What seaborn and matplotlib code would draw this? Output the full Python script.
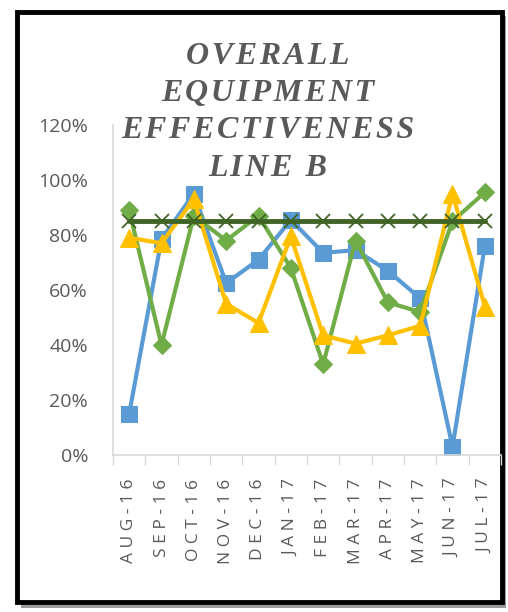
import numpy as np
import pandas as pd
import matplotlib
matplotlib.use("Agg")
import matplotlib.pyplot as plt
import seaborn as sns
from matplotlib.patches import Rectangle
from matplotlib.ticker import PercentFormatter


# Data
months = ["AUG-16", "SEP-16", "OCT-16", "NOV-16", "DEC-16", "JAN-17",
          "FEB-17", "MAR-17", "APR-17", "MAY-17", "JUN-17", "JUL-17"]

oee_blue = [0.15, 0.785, 0.95, 0.625, 0.71, 0.855, 0.735, 0.745, 0.67, 0.57, 0.03, 0.76]
oee_green = [0.89, 0.40, 0.87, 0.78, 0.87, 0.68, 0.33, 0.78, 0.555, 0.52, 0.85, 0.955]
oee_yellow = [0.79, 0.77, 0.93, 0.55, 0.48, 0.795, 0.435, 0.405, 0.435, 0.47, 0.95, 0.54]
target = [0.85] * 12


sns.set_theme(style="white")
plt.rcParams["font.family"] = ["Open Sans", "DejaVu Sans"]

fig = plt.figure(figsize=(5.08, 6.12), dpi=100)

# frame with shadow
fig.patches.append(Rectangle((0.042, 0.006), 0.955, 0.968, transform=fig.transFigure,
                             facecolor="#9a9a9a", edgecolor="none", zorder=0))
fig.patches.append(Rectangle((0.034, 0.016), 0.954, 0.964, transform=fig.transFigure,
                             facecolor="white", edgecolor="black", linewidth=3.5, zorder=1))

ax = fig.add_axes([113 / 508, (612 - 455) / 612, 388 / 508, 330 / 612])
ax.set_facecolor("none")
ax.set_zorder(3)

x = np.arange(len(months))

series = [
    (oee_blue, "#5B9BD5", "s", 12),
    (oee_green, "#70AD47", "D", 9),
    (oee_yellow, "#FFC000", "^", 13),
]

for vals, color, marker, ms in series:
    sns.lineplot(x=x, y=vals, ax=ax, color=color, linewidth=3,
                 marker=marker, markersize=ms, markeredgecolor=color,
                 sort=False, legend=False)

sns.lineplot(x=x, y=target, ax=ax, color="#3F6426", linewidth=3.5,
             marker="x", markersize=10, markeredgewidth=1.3,
             markeredgecolor="#3F6426", sort=False, legend=False)

ax.set_xlim(-0.5, 11.5)
ax.set_ylim(0, 1.2)
ax.set_yticks(np.arange(0, 1.21, 0.2))
ax.yaxis.set_major_formatter(PercentFormatter(1.0, decimals=0))
ax.tick_params(axis="y", labelsize=14, labelcolor="#595959", length=0, pad=18)

ax.set_xticks(x)
ax.set_xticklabels([" ".join(m) for m in months], rotation=90,
                   fontsize=12.5, color="#595959")
ax.set_xticks(np.arange(-0.5, 12, 1), minor=True)
ax.tick_params(axis="x", which="major", length=0, pad=17)
ax.tick_params(axis="x", which="minor", length=7, width=1, color="#d9d9d9",
               bottom=True, direction="out")

for side in ["top", "right"]:
    ax.spines[side].set_visible(False)
ax.spines["left"].set_color("#d9d9d9")
ax.spines["bottom"].set_color("#d9d9d9")
ax.spines["left"].set_linewidth(1.2)
ax.spines["bottom"].set_linewidth(1.2)
ax.set_xlabel("")
ax.set_ylabel("")

title_lines = ["OVERALL", "EQUIPMENT", "EFFECTIVENESS", "LINE B"]
for i, line in enumerate(title_lines):
    fig.text(268 / 508, 1 - (57 + i * 37) / 612, "\u200a".join(line),
             ha="center", va="center", fontsize=23, fontweight="bold",
             fontstyle="italic", color="#595959",
             family=["Liberation Serif", "DejaVu Serif"], zorder=5)

fig.savefig("out.png", dpi=100)
